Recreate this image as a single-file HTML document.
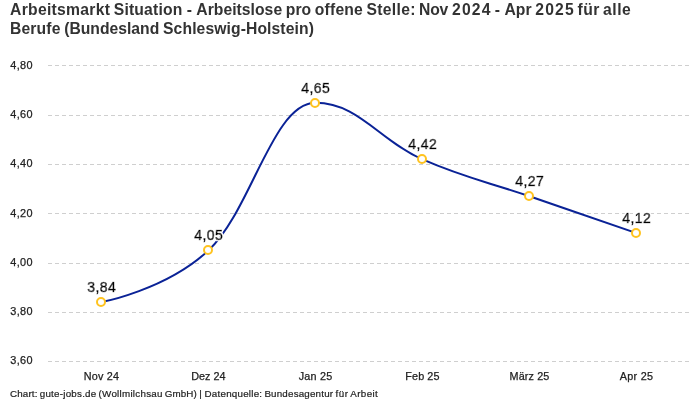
<!DOCTYPE html>
<html lang="de"><head><meta charset="utf-8"><title>Arbeitsmarkt Situation</title>
<style>
html,body{margin:0;padding:0;background:#fff;}
body{width:700px;height:400px;overflow:hidden;}
svg{display:block;font-family:"Liberation Sans", sans-serif;}
.title{font-size:15.7px;font-weight:700;fill:#333;}
.yl{font-size:10.9px;fill:#222;stroke:#222;stroke-width:.25px;}
.xl{font-size:10.8px;fill:#222;text-anchor:middle;stroke:#222;stroke-width:.25px;}
.dl{font-size:14px;font-weight:400;fill:#000;text-anchor:middle;stroke:#000;stroke-width:0.7px;filter:url(#halo);}
.ft{font-size:9.8px;fill:#222;stroke:#222;stroke-width:.2px;}
.grid line{stroke:#cfcfcf;stroke-width:1;stroke-dasharray:4 3;}
</style></head><body>
<svg width="700" height="400" viewBox="0 0 700 400">
<filter id="halo" x="-20%" y="-30%" width="140%" height="160%"><feMorphology in="SourceAlpha" operator="dilate" radius="1" result="d"/><feFlood flood-color="#fff"/><feComposite in2="d" operator="in" result="h"/><feMerge><feMergeNode in="h"/><feMergeNode in="SourceGraphic"/></feMerge></filter>
<rect width="700" height="400" fill="#fff"/>
<text id="t1" class="title" x="10.0" y="15.0"><tspan x="10.00" textLength="99.98" lengthAdjust="spacing">Arbeitsmarkt</tspan> <tspan x="113.75" textLength="68.52" lengthAdjust="spacing">Situation</tspan> <tspan x="186.63">-</tspan> <tspan x="196.25" textLength="85.86" lengthAdjust="spacing">Arbeitslose</tspan> <tspan x="285.86" textLength="25.16" lengthAdjust="spacing">pro</tspan> <tspan x="314.78" textLength="48.02" lengthAdjust="spacing">offene</tspan> <tspan x="366.55" textLength="48.83" lengthAdjust="spacing">Stelle:</tspan> <tspan x="419.12" textLength="29.11" lengthAdjust="spacing">Nov</tspan> <tspan x="452.00" textLength="38.41" lengthAdjust="spacing">2024</tspan> <tspan x="494.77">-</tspan> <tspan x="504.39" textLength="27.17" lengthAdjust="spacing">Apr</tspan> <tspan x="535.33" textLength="38.41" lengthAdjust="spacing">2025</tspan> <tspan x="577.50" textLength="21.78" lengthAdjust="spacing">für</tspan> <tspan x="603.05" textLength="27.69" lengthAdjust="spacing">alle</tspan></text>
<text id="t2" class="title" x="10.0" y="34.2"><tspan x="10.00" textLength="50.38" lengthAdjust="spacing">Berufe</tspan> <tspan x="64.14" textLength="95.16" lengthAdjust="spacing">(Bundesland</tspan> <tspan x="163.06" textLength="150.83" lengthAdjust="spacing">Schleswig-Holstein)</tspan></text>
<g class="grid">
<line x1="48" x2="690" y1="65.5" y2="65.5"/>
<line x1="48" x2="690" y1="115.5" y2="115.5"/>
<line x1="48" x2="690" y1="164.5" y2="164.5"/>
<line x1="48" x2="690" y1="213.5" y2="213.5"/>
<line x1="48" x2="690" y1="263.5" y2="263.5"/>
<line x1="48" x2="690" y1="312.5" y2="312.5"/>
<line x1="48" x2="690" y1="361.5" y2="361.5"/>
</g>
<text id="t3" class="yl" x="10.2" y="68.6" textLength="22.40" lengthAdjust="spacing">4,80</text>
<text id="t4" class="yl" x="10.2" y="118.2" textLength="22.40" lengthAdjust="spacing">4,60</text>
<text id="t5" class="yl" x="10.2" y="167.1" textLength="22.40" lengthAdjust="spacing">4,40</text>
<text id="t6" class="yl" x="10.2" y="216.6" textLength="22.40" lengthAdjust="spacing">4,20</text>
<text id="t7" class="yl" x="10.2" y="266.1" textLength="22.40" lengthAdjust="spacing">4,00</text>
<text id="t8" class="yl" x="10.2" y="315.2" textLength="22.40" lengthAdjust="spacing">3,80</text>
<text id="t9" class="yl" x="10.2" y="363.6" textLength="22.40" lengthAdjust="spacing">3,60</text>
<text id="t10" class="xl" x="101.4" y="379.5" textLength="35.06" lengthAdjust="spacing">Nov 24</text>
<text id="t11" class="xl" x="208.4" y="379.5" textLength="34.27" lengthAdjust="spacing">Dez 24</text>
<text id="t12" class="xl" x="315.4" y="379.5" textLength="33.53" lengthAdjust="spacing">Jan 25</text>
<text id="t13" class="xl" x="422.4" y="379.5" textLength="34.09" lengthAdjust="spacing">Feb 25</text>
<text id="t14" class="xl" x="529.4" y="379.5" textLength="39.75" lengthAdjust="spacing">März 25</text>
<text id="t15" class="xl" x="636.4" y="379.5" textLength="33.27" lengthAdjust="spacing">Apr 25</text>
<path d="M101.50 302.00 C101.50 302.00 165.70 290.20 208.50 250.38 C251.30 210.55 272.70 102.87 315.50 102.87 C358.30 102.87 379.70 140.73 422.50 159.42 C465.30 178.10 486.70 181.54 529.50 196.29 C572.30 211.04 636.50 233.17 636.50 233.17" fill="none" stroke="#0a2296" stroke-width="2"/>
<circle cx="101.00" cy="302.00" r="4" fill="#fff" stroke="#ffc31f" stroke-width="2"/>
<circle cx="208.00" cy="250.00" r="4" fill="#fff" stroke="#ffc31f" stroke-width="2"/>
<circle cx="315.00" cy="103.00" r="4" fill="#fff" stroke="#ffc31f" stroke-width="2"/>
<circle cx="422.00" cy="159.00" r="4" fill="#fff" stroke="#ffc31f" stroke-width="2"/>
<circle cx="529.00" cy="196.00" r="4" fill="#fff" stroke="#ffc31f" stroke-width="2"/>
<circle cx="636.00" cy="233.00" r="4" fill="#fff" stroke="#ffc31f" stroke-width="2"/>
<text id="t16" class="dl" x="101.6" y="292.0" textLength="28.53" lengthAdjust="spacing">3,84</text>
<text id="t17" class="dl" x="208.6" y="240.0" textLength="28.53" lengthAdjust="spacing">4,05</text>
<text id="t18" class="dl" x="315.6" y="93.0" textLength="28.53" lengthAdjust="spacing">4,65</text>
<text id="t19" class="dl" x="422.6" y="149.0" textLength="28.53" lengthAdjust="spacing">4,42</text>
<text id="t20" class="dl" x="529.6" y="186.0" textLength="28.53" lengthAdjust="spacing">4,27</text>
<text id="t21" class="dl" x="636.6" y="223.0" textLength="28.53" lengthAdjust="spacing">4,12</text>
<text id="t22" class="ft" x="10.0" y="397.0"><tspan x="10.00" textLength="27.38" lengthAdjust="spacing">Chart:</tspan> <tspan x="39.72" textLength="56.52" lengthAdjust="spacing">gute-jobs.de</tspan> <tspan x="98.58" textLength="63.88" lengthAdjust="spacing">(Wollmilchsau</tspan> <tspan x="164.80" textLength="31.91" lengthAdjust="spacing">GmbH)</tspan> <tspan x="199.35">|</tspan> <tspan x="204.55" textLength="57.48" lengthAdjust="spacing">Datenquelle:</tspan> <tspan x="264.38" textLength="68.66" lengthAdjust="spacing">Bundesagentur</tspan> <tspan x="335.38" textLength="12.61" lengthAdjust="spacing">für</tspan> <tspan x="350.33" textLength="27.39" lengthAdjust="spacing">Arbeit</tspan></text>
</svg></body></html>
